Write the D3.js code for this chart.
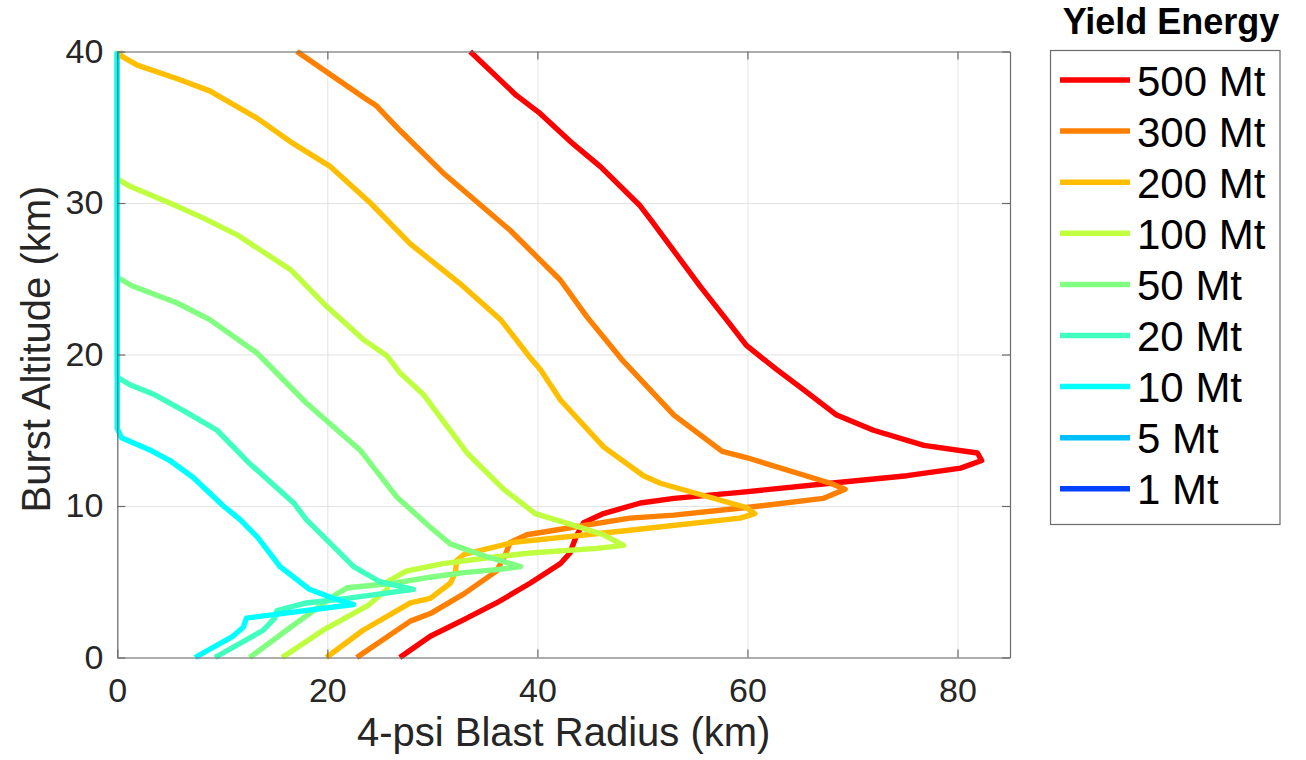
<html>
  <head>
    <title>Blast radius vs burst altitude</title>
    <style>
      body {
        margin: 0;
        background: #fff;
        font-family: "Liberation Sans", "Helvetica", "Arial", sans-serif;
      }
      svg {
        display: block;
      }
      .grid line {
        stroke: #e3e3e3;
      }
      .grid path {
        display: none;
      }
      .tick text {
        fill: #262626;
      }
    </style>
    <script src="https://cdn.jsdelivr.net/npm/d3@7"></script>
  </head>
  <body>
    <div id="chart"></div>
    <script>
      // yield labels, in legend order
      const yields = ["500 Mt", "300 Mt", "200 Mt", "100 Mt", "50 Mt", "20 Mt", "10 Mt", "5 Mt", "1 Mt"];

      // [4-psi radius (km), burst altitude (km)]
      const mt500 = [[33.6,40],[38.0,37.1],[40.1,36.0],[43.4,33.9],[46.0,32.4],[49.8,29.8],[51.0,28.7],[55.5,24.5],[58.0,22.3],[59.9,20.6],[62.8,19.0],[65.3,17.7],[68.5,16.0],[72.0,15.0],[76.8,14.0],[81.9,13.5],[82.3,13.0],[80.3,12.5],[75.2,12.0],[67.9,11.5],[59.3,10.9],[53.0,10.5],[49.8,10.2],[46.3,9.5],[44.4,8.9],[43.7,8.0],[43.1,6.9],[42.2,6.2],[39.3,4.9],[36.1,3.6],[33.0,2.5],[29.8,1.4],[26.9,0]];
      const mt300 = [[17.1,40],[23.4,37.0],[24.7,36.4],[26.9,34.8],[31.0,32.0],[37.4,28.2],[42.2,24.9],[44.7,22.5],[48.0,19.7],[53.0,16.0],[57.6,13.6],[59.9,13.2],[67.9,11.5],[69.3,11.1],[67.2,10.5],[59.9,9.9],[53.0,9.4],[48.8,9.2],[42.5,8.5],[39.0,8.1],[37.4,7.6],[36.9,6.7],[36.1,5.7],[33.0,4.2],[29.8,2.9],[27.9,2.4],[22.8,0]];
      const mt200 = [[0.2,40],[0.4,39.7],[1.9,39.1],[5.7,38.2],[8.8,37.4],[13.3,35.6],[16.8,33.9],[20.3,32.4],[24.1,30.0],[27.9,27.3],[32.6,24.7],[36.5,22.3],[39.3,19.8],[40.3,19.0],[42.2,17.0],[46.3,13.9],[50.1,12.0],[51.7,11.5],[59.9,9.9],[60.7,9.5],[59.3,9.2],[48.8,8.4],[37.7,7.6],[33.0,6.8],[32.3,6.4],[32.2,5.6],[31.7,4.9],[29.8,3.9],[27.9,3.6],[23.4,1.8],[19.9,0]];
      const mt100 = [[0,40],[0,31.6],[1.2,31.1],[5.0,30.0],[8.2,29.0],[11.4,27.9],[16.5,25.6],[19.9,23.2],[23.4,21.0],[25.7,19.9],[26.9,18.8],[29.1,17.4],[33.3,13.5],[36.8,11.1],[39.8,9.5],[43.1,8.8],[46.3,8.1],[48.2,7.4],[45.7,7.2],[39.3,6.9],[36.1,6.65],[31.0,6.2],[27.5,5.7],[25.7,5.0],[25.7,4.5],[23.8,3.4],[19.6,1.8],[15.7,0]];
      const mt50 = [[0,40],[0,25.1],[1.5,24.5],[5.7,23.4],[8.8,22.3],[13.3,20.1],[18.0,16.8],[23.1,13.7],[26.6,10.6],[29.8,8.6],[31.7,7.5],[35.2,6.65],[38.4,6.0],[36.1,5.8],[33.0,5.6],[29.8,5.3],[26.3,4.9],[21.9,4.6],[20.9,4.2],[19.3,3.4],[16.5,2.0],[12.6,0]];
      const mt20 = [[0,40],[0,18.5],[1.2,18.0],[3.4,17.4],[6.3,16.3],[9.5,15.0],[12.6,12.8],[16.8,10.2],[18.0,9.1],[19.9,7.8],[22.5,6.0],[25.0,5.0],[28.2,4.5],[21.9,3.9],[18.0,3.6],[15.2,3.1],[15.0,2.6],[13.9,1.8],[9.3,0]];
      const mt10 = [[0,40],[0,15.1],[0.4,14.5],[3.1,13.7],[5.0,13.0],[7.2,11.9],[10.1,10.0],[11.7,9.1],[13.4,7.9],[15.5,6.0],[18.3,4.5],[20.6,3.9],[22.5,3.5],[12.3,2.6],[12.0,2.0],[11.0,1.4],[7.4,0]];
      const mt5 = [];
      const mt1 = [];

      const xTicks = [0, 20, 40, 60, 80];
      const yTicks = [0, 10, 20, 30, 40];

      const series = [mt500, mt300, mt200, mt100, mt50, mt20, mt10, mt5, mt1];
      const colors = ["#ff0000", "#ff8000", "#ffbf00", "#bfff40", "#80ff80", "#40ffbf", "#00ffff", "#00bfff", "#0040ff"];

      const width = 1306, height = 760;
      const margin = { left: 117.3, right: 296, top: 51.5, bottom: 102.5 };
      const iw = width - margin.left - margin.right;
      const ih = height - margin.top - margin.bottom;

      const x = d3.scaleLinear().domain([0, 85]).range([0, iw]);
      const y = d3.scaleLinear().domain([0, 40]).range([ih, 0]);

      const svg = d3
        .select("#chart")
        .append("svg")
        .attr("width", width)
        .attr("height", height);

      const g = svg.append("g").attr("transform", `translate(${margin.left},${margin.top})`);

      // grid
      g.append("g")
        .attr("class", "grid")
        .attr("transform", `translate(0,${ih})`)
        .call(d3.axisBottom(x).tickValues(xTicks).tickSize(-ih).tickFormat(""));
      g.append("g")
        .attr("class", "grid")
        .call(d3.axisLeft(y).tickValues(yTicks).tickSize(-iw).tickFormat(""));

      // curves, 500 Mt first so the small yields sit on top
      const line = d3
        .line()
        .x((d) => x(d[0]))
        .y((d) => y(d[1]));

      g.append("g")
        .selectAll("path")
        .data(series)
        .join("path")
        .attr("fill", "none")
        .attr("stroke", (d, i) => colors[i])
        .attr("stroke-width", 5.4)
        .attr("stroke-linejoin", "round")
        .attr("d", (d) => (d.length ? line(d) : null));

      // axes with inward ticks on every side
      const axisStyle = (sel) => {
        sel.select(".domain").attr("stroke", "#6b6b6b").attr("stroke-width", 1.2);
        sel.selectAll(".tick line").attr("stroke", "#6b6b6b").attr("stroke-width", 1.2);
      };

      const xAxis = g
        .append("g")
        .attr("transform", `translate(0,${ih})`)
        .call(d3.axisBottom(x).tickValues(xTicks).tickSizeInner(-8).tickSizeOuter(0).tickPadding(20));
      xAxis.call(axisStyle);
      xAxis.selectAll(".tick text").attr("font-size", 34).attr("font-family", "Liberation Sans, Arial, sans-serif");

      const yAxis = g
        .append("g")
        .call(d3.axisLeft(y).tickValues(yTicks).tickSizeInner(-8).tickSizeOuter(0).tickPadding(14));
      yAxis.call(axisStyle);
      yAxis.selectAll(".tick text").attr("font-size", 34).attr("font-family", "Liberation Sans, Arial, sans-serif");

      g.append("g")
        .call(d3.axisTop(x).tickValues(xTicks).tickSizeInner(-8).tickSizeOuter(0).tickFormat(""))
        .call(axisStyle);
      g.append("g")
        .attr("transform", `translate(${iw},0)`)
        .call(d3.axisRight(y).tickValues(yTicks).tickSizeInner(-8).tickSizeOuter(0).tickFormat(""))
        .call(axisStyle);

      // axis titles
      svg.append("text")
        .attr("x", margin.left + iw / 2)
        .attr("y", 746)
        .attr("text-anchor", "middle")
        .attr("font-size", 40)
        .attr("fill", "#262626")
        .text("4-psi Blast Radius (km)");

      svg.append("text")
        .attr("transform", "translate(50,349) rotate(-90)")
        .attr("text-anchor", "middle")
        .attr("font-size", 40)
        .attr("fill", "#262626")
        .text("Burst Altitude (km)");

      // legend
      const lg = svg.append("g");
      lg.append("text")
        .attr("x", 1171)
        .attr("y", 34)
        .attr("text-anchor", "middle")
        .attr("font-size", 36)
        .attr("font-weight", "bold")
        .attr("fill", "#000")
        .text("Yield Energy");

      lg.append("rect")
        .attr("x", 1050.5)
        .attr("y", 50.5)
        .attr("width", 229.5)
        .attr("height", 474)
        .attr("fill", "#fff")
        .attr("stroke", "#6b6b6b")
        .attr("stroke-width", 1.2);

      const rows = lg
        .selectAll("g.row")
        .data(yields)
        .join("g")
        .attr("class", "row")
        .attr("transform", (d, i) => `translate(0,${80 + i * 51.1})`);

      rows.append("line")
        .attr("x1", 1060)
        .attr("x2", 1130)
        .attr("stroke", (d, i) => colors[i])
        .attr("stroke-width", 5.5);

      rows.append("text")
        .attr("x", 1137)
        .attr("y", 15.5)
        .attr("font-size", 42)
        .attr("fill", "#000")
        .text((d) => d);
    </script>
  </body>
</html>
